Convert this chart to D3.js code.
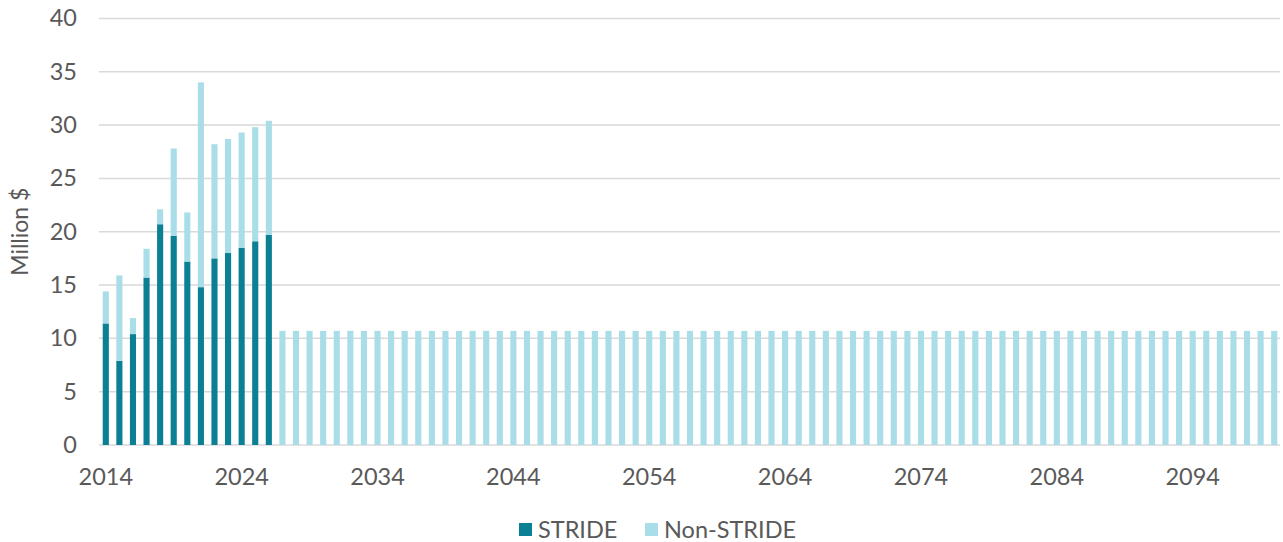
<!DOCTYPE html>
<html>
<head>
<meta charset="utf-8">
<script src="https://cdn.jsdelivr.net/npm/d3@7"></script>
<style>
  html, body { margin: 0; padding: 0; background: #fff; }
  svg { display: block; font-family: Lato, "Open Sans", sans-serif; }
</style>
</head>
<body>
<svg id="chart" width="1283" height="542"></svg>
<script>
// ---- Data ----
const years = d3.range(2014, 2101);
const strideValues = [11.4, 7.9, 10.4, 15.7, 20.7, 19.6, 17.2, 14.8, 17.5, 18.0, 18.5, 19.1, 19.7];
const totalValues = [14.4, 15.9, 11.9, 18.4, 22.1, 27.8, 21.8, 34.0, 28.2, 28.7, 29.3, 29.8, 30.4];
const futureNonStride = 10.7; // constant value read for 2027-2100
const yTicks = [0, 5, 10, 15, 20, 25, 30, 35, 40];
const xTickLabels = ["2014", "2024", "2034", "2044", "2054", "2064", "2074", "2084", "2094"];
const seriesNames = ["STRIDE", "Non-STRIDE"];
const seriesColors = ["#0b7f93", "#a9dde7"];

// Build table
const rows = years.map((y, i) => {
  const s = i < strideValues.length ? strideValues[i] : 0;
  const n = i < totalValues.length ? totalValues[i] - strideValues[i] : futureNonStride;
  return { year: String(y), "STRIDE": s, "Non-STRIDE": n };
});

const svg = d3.select("#chart");
const margin = { left: 99, right: 2, top: 18.4, bottom: 97 };
const W = 1283, H = 542;
const textColor = "#595959";

const x = d3.scaleBand()
  .domain(rows.map(d => d.year))
  .range([margin.left, W - margin.right])
  .paddingInner(0.55)
  .paddingOuter(0.275);

const y = d3.scaleLinear()
  .domain([0, 40])
  .range([H - margin.bottom, margin.top]);

// Gridlines
svg.append("g")
  .selectAll("line")
  .data(yTicks)
  .join("line")
  .attr("x1", margin.left)
  .attr("x2", 1280)
  .attr("y1", d => y(d))
  .attr("y2", d => y(d))
  .attr("stroke", "#d9d9d9")
  .attr("stroke-width", 1.5);

// Y axis
const yAxis = svg.append("g")
  .attr("transform", `translate(${margin.left - 22},0)`)
  .call(d3.axisLeft(y).tickValues(yTicks).tickSize(0).tickPadding(0));
yAxis.select(".domain").remove();
yAxis.selectAll("text")
  .attr("fill", textColor)
  .attr("font-size", 23.5)
  .attr("font-family", "Lato, sans-serif");

// X axis
const xAxis = svg.append("g")
  .attr("transform", `translate(0,${y(0)})`)
  .call(d3.axisBottom(x).tickValues(xTickLabels).tickSize(0).tickPadding(23));
xAxis.select(".domain").remove();
xAxis.selectAll("text")
  .attr("fill", textColor)
  .attr("font-size", 23.5)
  .attr("font-family", "Lato, sans-serif");

// Stacked bars
const stack = d3.stack().keys(seriesNames);
const stacked = stack(rows);
const color = d3.scaleOrdinal().domain(seriesNames).range(seriesColors);

svg.append("g")
  .selectAll("g")
  .data(stacked)
  .join("g")
  .attr("fill", d => color(d.key))
  .selectAll("rect")
  .data(d => d)
  .join("rect")
  .attr("x", d => x(d.data.year))
  .attr("width", x.bandwidth())
  .attr("y", d => y(d[1]))
  .attr("height", d => Math.max(0, y(d[0]) - y(d[1])));

// Y axis title
svg.append("text")
  .attr("transform", `translate(28,${(y(0) + y(40)) / 2}) rotate(-90)`)
  .attr("text-anchor", "middle")
  .attr("fill", textColor)
  .attr("font-size", 23)
  .attr("font-family", "Lato, sans-serif")
  .text("Million $");

// Legend
const legendItems = [
  { name: seriesNames[0], color: seriesColors[0], x: 519 },
  { name: seriesNames[1], color: seriesColors[1], x: 645 }
];
const lg = svg.append("g").selectAll("g").data(legendItems).join("g")
  .attr("transform", d => `translate(${d.x},0)`);
lg.append("rect")
  .attr("x", 0).attr("y", 523).attr("width", 13).attr("height", 13)
  .attr("fill", d => d.color);
lg.append("text")
  .attr("x", 19).attr("y", 538)
  .attr("fill", textColor)
  .attr("font-size", 23.5)
  .attr("font-family", "Lato, sans-serif")
  .text(d => d.name);
</script>
</body>
</html>
